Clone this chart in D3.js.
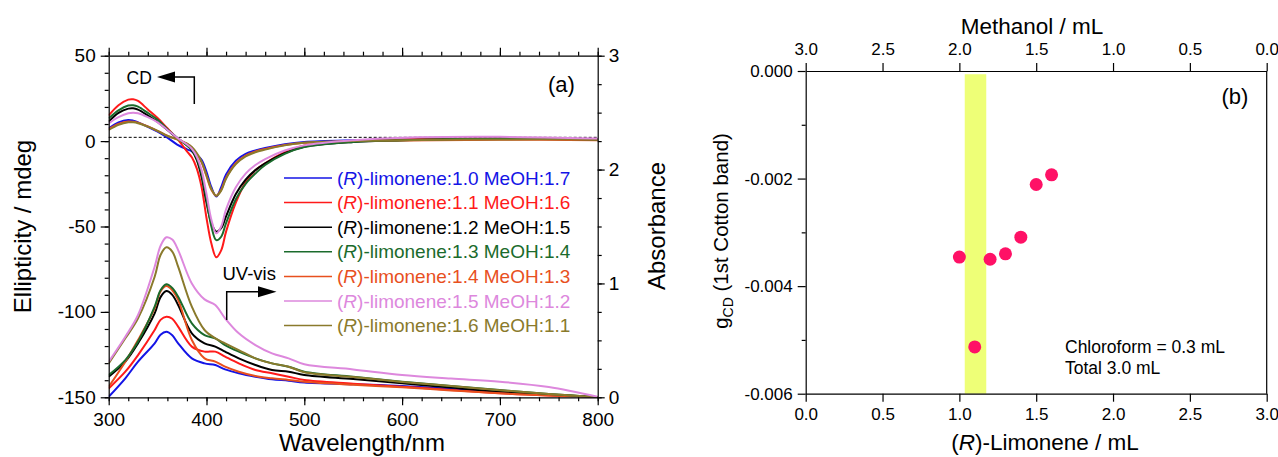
<!DOCTYPE html>
<html><head><meta charset="utf-8">
<script src="https://cdn.jsdelivr.net/npm/d3@7"></script>
<style>
body{margin:0;background:#fff;}
svg{font-family:Arial,"Liberation Sans",sans-serif;}
</style></head><body>
<svg id="fig" width="1278" height="457"></svg>
<script>
// ---- data ----
var limonene=[1.0,1.1,1.2,1.3,1.4,1.5,1.6];
var methanol=[1.7,1.6,1.5,1.4,1.3,1.2,1.1];
var colors=['#1414e6','#ff1a1a','#000000','#1b6b2c','#e8501e','#dd88dd','#8a7a2c'];

// CD spectra (mdeg)
var cdWl=[300,310,320,325,330,340,350,360,370,380,385,390,395,400,405,410,415,420,430,440,450,460,480,500,550,600,700,800];
var cd10=[7.5,11,12.4,12,11,8.4,5.5,2,-2,-4.8,-6,-8,-11,-18,-27,-32.5,-27,-19.5,-11.5,-7.5,-5.5,-4,-1.8,-0.5,0.5,1,1.5,1];
var cd11=[15,21,24.3,24.5,23.5,18.5,13.5,7.5,1.5,-6,-9.5,-16,-27,-45,-60,-68,-64,-53,-36,-24,-17,-13,-6.5,-2.5,0,1,1.5,1];
var cd12=[11.4,16.5,19,19.2,18.4,15,11.2,6.5,1.8,-2.5,-5.5,-11,-21,-36,-48,-53,-51,-44,-31,-22.5,-17,-13,-7,-3.3,-0.5,0.5,1.3,1];
var cd13=[13.3,18,20.8,21,20.2,16.5,12.5,7,2,-2.5,-5,-10,-19,-34,-50,-58,-56,-48,-34,-25,-19,-14,-7.5,-3.5,-0.5,0.5,1.5,1];
var cd14=[7,10,11.5,11.3,10.8,8.6,6,3.2,1,-1.5,-3.8,-7.5,-12.5,-20.5,-28.5,-32,-28.5,-21.5,-13,-8.5,-6,-4.6,-2.3,-1,0,0.3,0.8,0.5];
var cd15=[10.4,14,16.3,16.6,16.3,14,11,6.5,2,-2,-4.5,-9,-17,-31,-46,-54,-50,-40,-27,-19,-14,-10.5,-5.5,-2.5,0.5,2,2.5,1.5];
var cd16=[6.5,9.5,11,11,10.5,8.5,6,3,1,-1.5,-3.5,-7,-12,-20,-28,-32,-29,-22,-13.5,-9,-6.5,-5,-2.5,-1,0,0.5,1,1];

// UV-vis spectra (absorbance)
var absWl=[300,317,330,347,353,359,365,371,385,398,409,419,433,450,467,484,500,550,600,650,700,750,800];
var abs10=[0.005,0.167,0.313,0.474,0.55,0.576,0.545,0.474,0.342,0.298,0.284,0.245,0.211,0.181,0.158,0.146,0.13,0.115,0.1,0.075,0.046,0.02,0.0];
var abs11=[0.078,0.225,0.371,0.591,0.68,0.708,0.69,0.62,0.445,0.401,0.401,0.357,0.298,0.24,0.211,0.181,0.152,0.12,0.093,0.065,0.035,0.015,0.0];
var abs12=[0.181,0.313,0.474,0.737,0.88,0.933,0.9,0.81,0.562,0.474,0.445,0.401,0.342,0.284,0.24,0.225,0.196,0.16,0.123,0.085,0.05,0.025,0.0];
var abs13=[0.196,0.327,0.489,0.796,0.94,0.992,0.96,0.884,0.65,0.547,0.518,0.459,0.401,0.342,0.298,0.269,0.225,0.18,0.137,0.1,0.064,0.03,0.0];
var abs14=[0.093,0.313,0.503,0.781,0.93,0.977,0.94,0.855,0.503,0.342,0.313,0.269,0.225,0.187,0.167,0.152,0.137,0.11,0.088,0.06,0.035,0.015,0.0];
var abs15=[0.313,0.532,0.723,1.147,1.33,1.405,1.385,1.293,1.0,0.86,0.81,0.694,0.562,0.459,0.386,0.342,0.29,0.245,0.196,0.165,0.137,0.09,0.005];
var abs16=[0.298,0.518,0.694,1.059,1.25,1.317,1.28,1.147,0.796,0.591,0.518,0.474,0.415,0.342,0.298,0.269,0.22,0.178,0.135,0.1,0.062,0.03,0.0];

var cdSeries=[cd10,cd11,cd12,cd13,cd14,cd15,cd16];
var absSeries=[abs10,abs11,abs12,abs13,abs14,abs15,abs16];

// g_CD vs (R)-limonene volume
var gcd=[-0.00346,-0.00513,-0.0035,-0.0034,-0.00309,-0.00211,-0.00193];
var bandRange=[1.035,1.175];

// ticks
var wlMajor=[300,400,500,600,700,800];
var cdMajor=[-150,-100,-50,0,50];
var absMajor=[0,1,2,3];
var volTicks=[0,0.5,1,1.5,2,2.5,3];
var gMajor=[-0.006,-0.004,-0.002,0];
var gMinor=[-0.005,-0.003,-0.001];

// ---- drawing ----
var FONT='Arial, "Liberation Sans", sans-serif';
var svg=d3.select('#fig');

function hy(s) {return s.replace('\u2212','-');}

function drawAxis(transform,gen,fontSize,minor) {
	var g=svg.append('g').attr('transform',transform).call(gen);
	g.selectAll('text').attr('font-size',fontSize).attr('font-family',FONT).attr('fill','#000');
	g.selectAll('line').attr('stroke','#000').attr('stroke-width',1.2);
	if (minor) g.select('.domain').remove();
	else g.select('.domain').attr('stroke','#000').attr('stroke-width',1.2);
	return g;
}

// panel (a)
var L={x0:108.7,x1:597.7,y0:55.7,y1:397.3};
var xW=d3.scaleLinear().domain([300,800]).range([L.x0,L.x1]);
var yCD=d3.scaleLinear().domain([-150,50]).range([L.y1,L.y0]);
var yAbs=d3.scaleLinear().domain([0,3]).range([L.y1,L.y0]);

svg.append('clipPath').attr('id','clipA').append('rect')
	.attr('x',L.x0).attr('y',L.y0).attr('width',L.x1-L.x0).attr('height',L.y1-L.y0);

// dashed baseline
svg.append('line').attr('x1',L.x0).attr('x2',L.x1).attr('y1',yCD(2.2)).attr('y2',yCD(2.2))
	.attr('stroke','#000').attr('stroke-width',1).attr('stroke-dasharray','3,2');

var smooth=d3.curveCatmullRom.alpha(0.5);
var lineCD=d3.line().x(function(d){return xW(d[0]);}).y(function(d){return yCD(d[1]);}).curve(smooth);
var lineAbs=d3.line().x(function(d){return xW(d[0]);}).y(function(d){return yAbs(d[1]);}).curve(smooth);

var plotA=svg.append('g').attr('clip-path','url(#clipA)');
var order=[0,1,2,4,3,6,5];
order.forEach(function(i) {
	plotA.append('path').datum(absWl.map(function(w,k){return [w,absSeries[i][k]];}))
		.attr('d',lineAbs).attr('fill','none').attr('stroke',colors[i]).attr('stroke-width',2);
});
order.forEach(function(i) {
	plotA.append('path').datum(cdWl.map(function(w,k){return [w,cdSeries[i][k]];}))
		.attr('d',lineCD).attr('fill','none').attr('stroke',colors[i]).attr('stroke-width',2);
});

// axes (a)
drawAxis('translate(0,'+L.y1+')',d3.axisBottom(xW).tickValues(d3.range(300,801,20)).tickSize(4).tickFormat(''),19,true);
drawAxis('translate(0,'+L.y1+')',d3.axisBottom(xW).tickValues(wlMajor).tickSize(8).tickSizeOuter(0).tickPadding(7),19);
drawAxis('translate(0,'+L.y0+')',d3.axisTop(xW).tickValues(d3.range(300,801,20)).tickSize(4).tickFormat(''),19,true);
drawAxis('translate(0,'+L.y0+')',d3.axisTop(xW).tickValues(wlMajor).tickSize(8).tickSizeOuter(0).tickFormat(''),19);
drawAxis('translate('+L.x0+',0)',d3.axisLeft(yCD).tickValues(d3.range(-150,51,10)).tickSize(4).tickFormat(''),19,true);
drawAxis('translate('+L.x0+',0)',d3.axisLeft(yCD).tickValues(cdMajor).tickSize(8).tickSizeOuter(0).tickPadding(5)
	.tickFormat(function(d){return hy(d3.format('d')(d));}),19);
drawAxis('translate('+L.x1+',0)',d3.axisRight(yAbs).tickValues(d3.range(0,3.01,0.25)).tickSize(4).tickFormat(''),19,true);
drawAxis('translate('+L.x1+',0)',d3.axisRight(yAbs).tickValues(absMajor).tickSize(7).tickSizeOuter(0).tickPadding(4)
	.tickFormat(d3.format('d')),19);

// legend
var legY0=178, legDy=24.6;
limonene.forEach(function(v,i) {
	var y=legY0+i*legDy;
	svg.append('line').attr('x1',284).attr('x2',332).attr('y1',y).attr('y2',y)
		.attr('stroke',colors[i]).attr('stroke-width',1.5);
	var t=svg.append('text').attr('x',337).attr('y',y+6.5).attr('font-size',19).attr('fill',colors[i]);
	t.append('tspan').text('(');
	t.append('tspan').attr('font-style','italic').text('R');
	t.append('tspan').text(')-limonene:'+v.toFixed(1)+' MeOH:'+methanol[i].toFixed(1));
});

// annotations (a)
svg.append('text').attr('x',548).attr('y',92).attr('font-size',22).text('(a)');
svg.append('text').attr('x',126.5).attr('y',83.5).attr('font-size',17.5).text('CD');
svg.append('path').attr('d','M157,77L175,71.5L175,82.5Z').attr('fill','#000');
svg.append('path').attr('d','M175,77H194.3V104').attr('fill','none').attr('stroke','#000').attr('stroke-width',1.5);
svg.append('text').attr('x',222.5).attr('y',280).attr('font-size',18.5).text('UV-vis');
svg.append('path').attr('d','M226.7,320V291.7H258').attr('fill','none').attr('stroke','#000').attr('stroke-width',1.5);
svg.append('path').attr('d','M258,286.2L276.5,291.7L258,297.2Z').attr('fill','#000');

// axis titles (a)
svg.append('text').attr('transform','translate(31,226.5) rotate(-90)').attr('text-anchor','middle')
	.attr('font-size',24).text('Ellipticity / mdeg');
svg.append('text').attr('transform','translate(665,226) rotate(-90)').attr('text-anchor','middle')
	.attr('font-size',24).text('Absorbance');
svg.append('text').attr('x',362).attr('y',451).attr('text-anchor','middle').attr('font-size',24).text('Wavelength/nm');

// panel (b)
var R={x0:805.7,x1:1266.7,y0:71,y1:393.7};
var xV=d3.scaleLinear().domain([0,3]).range([R.x0,R.x1]);
var xM=d3.scaleLinear().domain([3,0]).range([R.x0,R.x1]);
var yG=d3.scaleLinear().domain([-0.006,0]).range([R.y1,R.y0]);

svg.append('rect').attr('x',xV(bandRange[0])).attr('width',xV(bandRange[1])-xV(bandRange[0]))
	.attr('y',yG(-0.00006)).attr('height',yG(-0.006)-yG(-0.00006)).attr('fill','#eeff77');

svg.append('line').attr('x1',R.x1).attr('x2',R.x1).attr('y1',R.y0).attr('y2',R.y1)
	.attr('stroke','#000').attr('stroke-width',1.2);

svg.append('g').selectAll('circle').data(limonene).enter().append('circle')
	.attr('cx',function(d){return xV(d);}).attr('cy',function(d,i){return yG(gcd[i]);})
	.attr('r',6.5).attr('fill','#ff1166');

var f1=d3.format('.1f');
drawAxis('translate(0,'+R.y1+')',d3.axisBottom(xV).tickValues(volTicks).tickSize(8).tickSizeOuter(0).tickPadding(6).tickFormat(f1),17);
drawAxis('translate(0,'+R.y0+')',d3.axisTop(xM).tickValues(volTicks).tickSize(8).tickSizeOuter(0).tickPadding(8).tickFormat(f1),17);
drawAxis('translate('+R.x0+',0)',d3.axisLeft(yG).tickValues(gMinor).tickSize(4).tickFormat(''),17,true);
drawAxis('translate('+R.x0+',0)',d3.axisLeft(yG).tickValues(gMajor).tickSize(8).tickSizeOuter(0).tickPadding(5)
	.tickFormat(function(d){return hy(d3.format('.3f')(d));}),17);

svg.append('text').attr('x',1221.5).attr('y',104).attr('font-size',22).text('(b)');
svg.append('text').attr('x',1065).attr('y',353).attr('font-size',17.5).text('Chloroform = 0.3 mL');
svg.append('text').attr('x',1065).attr('y',374).attr('font-size',17.5).text('Total 3.0 mL');

svg.append('text').attr('x',1032).attr('y',34.3).attr('text-anchor','middle').attr('font-size',22.5).text('Methanol / mL');
var xt=svg.append('text').attr('x',1045).attr('y',449.5).attr('text-anchor','middle').attr('font-size',22.5);
xt.append('tspan').text('(');
xt.append('tspan').attr('font-style','italic').text('R');
xt.append('tspan').text(')-Limonene / mL');
var yt=svg.append('text').attr('transform','translate(728,231) rotate(-90)').attr('text-anchor','middle').attr('font-size',20.5);
yt.append('tspan').text('g');
yt.append('tspan').attr('font-size',14).attr('dy',5).text('CD');
yt.append('tspan').attr('dy',-5).text(' (1st Cotton band)');
</script>
</body></html>
